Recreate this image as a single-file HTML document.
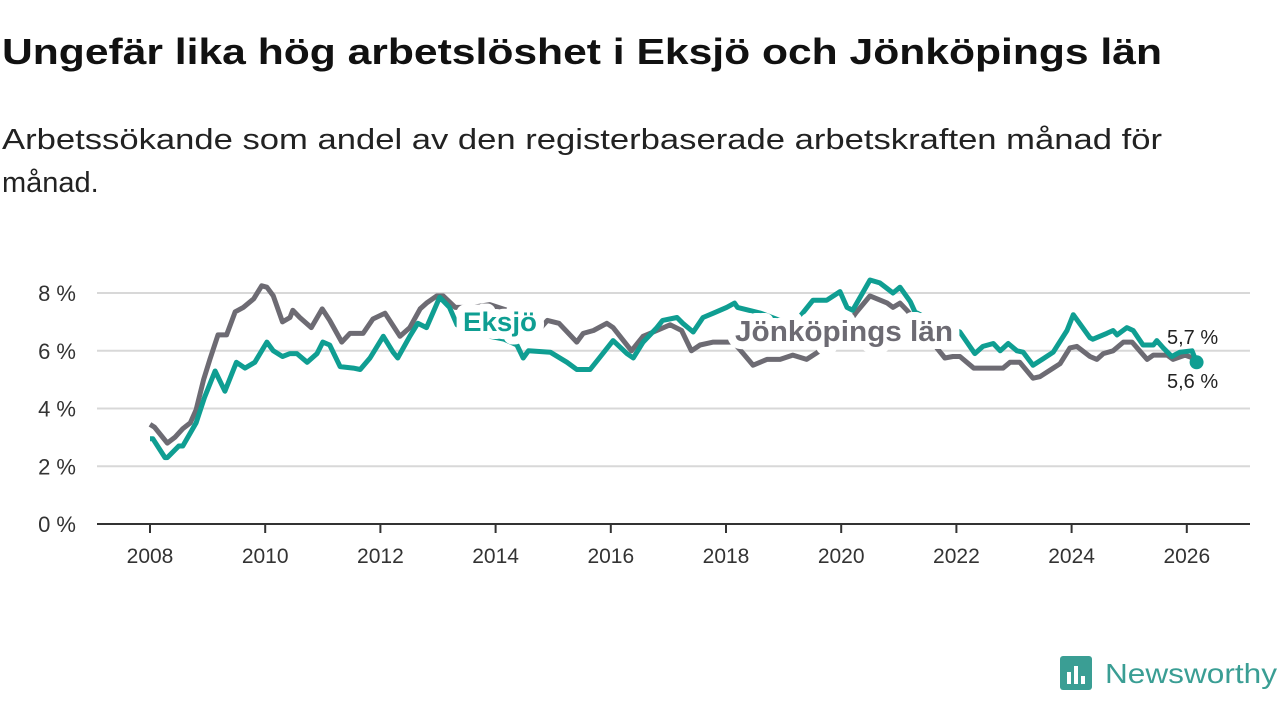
<!DOCTYPE html>
<html><head><meta charset="utf-8"><style>
body{margin:0;background:#fff;width:1280px;height:720px;overflow:hidden;font-family:"Liberation Sans",sans-serif}
</style></head><body>
<svg id="chart" width="1280" height="720" xmlns="http://www.w3.org/2000/svg" font-family="Liberation Sans, sans-serif">
<text x="2" y="64" font-size="36" font-weight="bold" fill="#111" textLength="1160" lengthAdjust="spacingAndGlyphs">Ungefär lika hög arbetslöshet i Eksjö och Jönköpings län</text>
<text x="2" y="149" font-size="29" fill="#222" textLength="1160" lengthAdjust="spacingAndGlyphs">Arbetssökande som andel av den registerbaserade arbetskraften månad för</text>
<text x="2" y="192" font-size="29" fill="#222">månad.</text>
<g id="grid"></g><g id="lines"></g><g id="labels"></g>
<g>
<rect x="1060" y="656" width="32" height="34" rx="3" fill="#3a9e94"/>
<rect x="1067" y="672" width="4" height="12" fill="#fff"/><rect x="1074" y="666" width="4" height="18" fill="#fff"/><rect x="1081" y="676" width="4" height="8" fill="#fff"/>
<text x="1105" y="683" font-size="28" fill="#3a9e94" textLength="172" lengthAdjust="spacingAndGlyphs">Newsworthy</text>
</g>
</svg>
<script>
const yTicks=[0,2,4,6,8];
const xTicks=[2008,2010,2012,2014,2016,2018,2020,2022,2024,2026];
const jonYears=[2008.0,2008.08,2008.3,2008.43,2008.57,2008.7,2008.8,2008.93,2009.04,2009.18,2009.33,2009.48,2009.62,2009.8,2009.94,2010.03,2010.14,2010.3,2010.43,2010.48,2010.6,2010.8,2010.99,2011.12,2011.33,2011.47,2011.7,2011.87,2012.08,2012.34,2012.51,2012.69,2012.8,2012.98,2013.09,2013.3,2013.6,2013.9,2014.2,2014.5,2014.7,2014.9,2015.1,2015.41,2015.52,2015.7,2015.93,2016.04,2016.36,2016.56,2016.8,2017.03,2017.23,2017.4,2017.55,2017.78,2018.13,2018.3,2018.47,2018.71,2018.94,2019.16,2019.4,2019.63,2019.9,2020.1,2020.25,2020.5,2020.8,2020.9,2021.02,2021.14,2021.4,2021.66,2021.8,2021.94,2022.06,2022.3,2022.81,2022.93,2023.1,2023.33,2023.45,2023.68,2023.8,2023.97,2024.09,2024.32,2024.44,2024.55,2024.72,2024.9,2025.05,2025.31,2025.42,2025.66,2025.76,2025.97,2026.17];
const jonVals=[3.45,3.35,2.8,3.0,3.3,3.5,3.95,5.0,5.7,6.55,6.55,7.35,7.5,7.8,8.25,8.2,7.9,7.0,7.15,7.4,7.15,6.8,7.45,7.05,6.3,6.6,6.6,7.1,7.3,6.5,6.8,7.45,7.65,7.9,7.9,7.5,7.5,7.6,7.4,6.8,6.6,7.05,6.95,6.3,6.6,6.7,6.95,6.8,6.0,6.5,6.7,6.9,6.7,6.0,6.2,6.3,6.3,5.9,5.5,5.7,5.7,5.85,5.7,6.0,6.2,6.9,7.3,7.9,7.65,7.5,7.65,7.4,6.8,6.1,5.75,5.8,5.8,5.4,5.4,5.6,5.6,5.05,5.1,5.4,5.55,6.1,6.15,5.8,5.7,5.9,6.0,6.3,6.3,5.7,5.85,5.85,5.7,5.85,5.7];
const eksYears=[2008.0,2008.05,2008.26,2008.3,2008.5,2008.57,2008.8,2008.95,2009.13,2009.3,2009.5,2009.65,2009.82,2010.03,2010.14,2010.3,2010.43,2010.55,2010.73,2010.9,2011.0,2011.12,2011.3,2011.53,2011.65,2011.82,2012.05,2012.22,2012.3,2012.51,2012.65,2012.8,2013.03,2013.2,2013.33,2013.6,2013.9,2014.15,2014.37,2014.48,2014.57,2014.95,2015.24,2015.41,2015.64,2015.8,2016.04,2016.28,2016.39,2016.56,2016.8,2016.9,2017.15,2017.25,2017.43,2017.6,2017.78,2018.01,2018.15,2018.2,2018.6,2019.0,2019.29,2019.51,2019.75,2019.98,2020.1,2020.2,2020.5,2020.67,2020.9,2021.02,2021.2,2021.28,2021.6,2022.06,2022.32,2022.46,2022.64,2022.76,2022.9,2023.05,2023.16,2023.33,2023.49,2023.68,2023.92,2024.03,2024.32,2024.37,2024.61,2024.72,2024.79,2024.96,2025.07,2025.24,2025.42,2025.48,2025.59,2025.74,2025.88,2026.09,2026.17];
const eksVals=[2.95,2.95,2.3,2.3,2.7,2.7,3.5,4.4,5.3,4.6,5.6,5.4,5.6,6.3,6.0,5.8,5.9,5.9,5.6,5.9,6.3,6.2,5.45,5.4,5.35,5.75,6.5,5.95,5.75,6.5,6.95,6.8,7.85,7.5,6.9,6.6,6.5,6.4,6.2,5.75,6.0,5.95,5.6,5.35,5.35,5.75,6.35,5.9,5.75,6.3,6.8,7.05,7.15,6.95,6.65,7.15,7.3,7.5,7.65,7.5,7.3,7.0,7.2,7.75,7.75,8.05,7.5,7.4,8.45,8.35,8.0,8.2,7.7,7.35,7.0,6.65,5.9,6.15,6.25,6.0,6.25,6.0,5.95,5.5,5.7,5.95,6.7,7.25,6.45,6.4,6.6,6.7,6.55,6.8,6.7,6.2,6.2,6.35,6.1,5.8,5.95,6.0,5.6];
const NS="http://www.w3.org/2000/svg";
const X=y=>150+(y-2008)*57.6;
const Y=v=>524-v*28.875;
const grid=document.getElementById('grid'),lines=document.getElementById('lines'),labels=document.getElementById('labels');
function mk(tag,attrs,parent){const e=document.createElementNS(NS,tag);for(const k in attrs)e.setAttribute(k,attrs[k]);parent.appendChild(e);return e;}
yTicks.forEach(t=>{
  const l=mk('line',{x1:97,x2:1250,y1:Y(t),y2:Y(t),stroke:t===0?'#333':'#d8d8d8','stroke-width':2},grid);
  
  
  const tx=mk('text',{x:76,y:Y(t)+8,'font-size':22,fill:'#333','text-anchor':'end'},grid);
  tx.textContent=t+' %';
  
  
});
xTicks.forEach(t=>{
  const l=mk('line',{x1:X(t),x2:X(t),y1:525,y2:533,stroke:'#333','stroke-width':2},grid);
  
  
  const tx=mk('text',{x:X(t),y:563,'font-size':21,fill:'#333','text-anchor':'middle'},grid);
  tx.textContent=t;
  
  
});
function path(ys,vs){return ys.map((y,i)=>(i?'L':'M')+X(y).toFixed(1)+','+Y(vs[i]).toFixed(1)).join('');}
const pj=mk('path',{d:path(jonYears,jonVals),fill:'none',stroke:'#6d6b73','stroke-width':5,'stroke-linejoin':'round'},lines);


const pe=mk('path',{d:path(eksYears,eksVals),fill:'none',stroke:'#0f9e92','stroke-width':5,'stroke-linejoin':'round'},lines);


const dot=mk('circle',{cx:X(eksYears[eksYears.length-1]),cy:Y(eksVals[eksVals.length-1]),r:7,fill:'#0f9e92'},lines);


function lab(txt,x,y,fill,name,bold,size,halo,len){
  if(halo){const h=mk('text',{x:x,y:y,'font-size':size,'font-weight':'bold',fill:'#fff',stroke:'#fff','stroke-width':16,'stroke-linejoin':'round',textLength:len,lengthAdjust:'spacingAndGlyphs'},labels);h.textContent=txt;
  
  }
  const a={x:x,y:y,'font-size':size,'font-weight':bold?'bold':'normal',fill:fill};
  if(len){a.textLength=len;a.lengthAdjust='spacingAndGlyphs';}
  const t=mk('text',a,labels);t.textContent=txt;
  
  
}
lab('Eksjö',463,331,'#0f9e92','eksjo-label',true,27,true,74);
lab('Jönköpings län',735,341,'#6d6b73','jonkoping-label',true,29,true,218);
lab('5,7 %',1167,344,'#222','jonkoping-end-value',false,20,false);
lab('5,6 %',1167,388,'#222','eksjo-end-value',false,20,false);
</script>
</body></html>
